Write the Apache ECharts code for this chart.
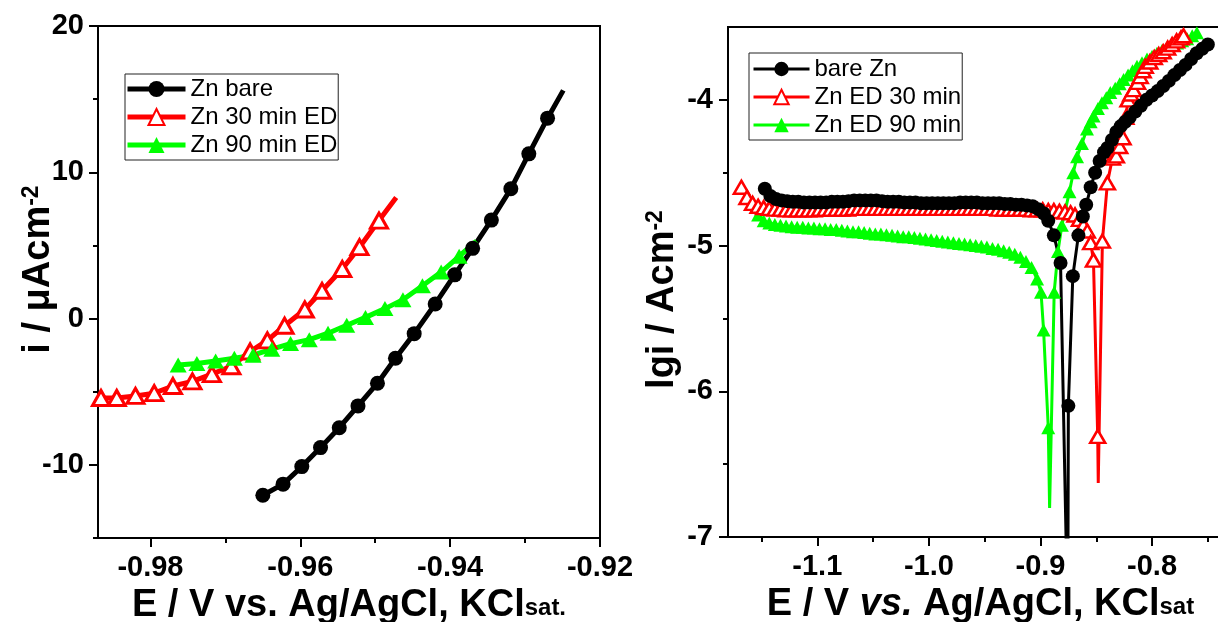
<!DOCTYPE html>
<html>
<head>
<meta charset="utf-8">
<script src="https://cdn.jsdelivr.net/npm/echarts@6/dist/echarts.min.js"></script>
<style>
html, body { margin: 0; padding: 0; background: #fff; }
#main { width: 1218px; height: 622px; }
</style>
</head>
<body>
<div id="main"></div>
<script>
// ---- left panel: i vs E near Ecorr ----
var eBareL = [-0.9650, -0.9623, -0.9598, -0.9573, -0.9548, -0.9523, -0.9497, -0.9473, -0.9448, -0.9420, -0.9394, -0.9370, -0.9345, -0.9319, -0.9295, -0.9270, -0.9249];
var iBareL = [-12.08, -11.32, -10.12, -8.82, -7.46, -5.97, -4.42, -2.71, -1.03, 1.00, 2.99, 4.80, 6.73, 8.87, 11.26, 13.70, 15.6];
var e30L = [-0.9866, -0.9845, -0.9820, -0.9795, -0.9770, -0.9744, -0.9718, -0.9692, -0.9667, -0.9644, -0.9621, -0.9594, -0.9571, -0.9544, -0.9521, -0.9495, -0.9472];
var i30L = [-5.43, -5.43, -5.29, -5.10, -4.61, -4.29, -3.80, -3.26, -2.25, -1.49, -0.49, 0.62, 1.90, 3.39, 4.88, 6.70, 8.28];
var e90L = [-0.9763, -0.9738, -0.9713, -0.9688, -0.9663, -0.9638, -0.9613, -0.9588, -0.9563, -0.9538, -0.9513, -0.9487, -0.9463, -0.9437, -0.9412, -0.9388, -0.9365];
var i90L = [-3.18, -3.07, -2.90, -2.71, -2.50, -2.09, -1.71, -1.44, -1.00, -0.46, 0.08, 0.68, 1.28, 2.25, 3.18, 4.26, 5.29];
// line ends drawn without a marker
var tipsBareL = [-0.9249];
var tips30L = [-0.9472];
var tips90L = [-0.9365];

// ---- right panel: Tafel plot ----
var eBareR = [-1.147, -1.142, -1.137, -1.132, -1.127, -1.122, -1.117, -1.112, -1.107, -1.102,
  -1.097, -1.092, -1.087, -1.082, -1.077, -1.072, -1.067, -1.062, -1.057, -1.052,
  -1.047, -1.042, -1.037, -1.032, -1.027, -1.022, -1.017, -1.012, -1.007, -1.002,
  -0.997, -0.992, -0.987, -0.982, -0.977, -0.972, -0.967, -0.962, -0.957, -0.952,
  -0.947, -0.942, -0.937, -0.932, -0.927, -0.922, -0.917, -0.912, -0.907, -0.902,
  -0.897, -0.893, -0.888, -0.882, -0.8755, -0.875, -0.871, -0.866, -0.862, -0.859,
  -0.855, -0.851, -0.847, -0.843, -0.840, -0.836, -0.832, -0.828, -0.824, -0.820,
  -0.815, -0.810, -0.805, -0.800, -0.795, -0.790, -0.785, -0.780, -0.775, -0.770,
  -0.765, -0.760, -0.755, -0.750];
var lgBareR = [-4.61, -4.66, -4.68, -4.69, -4.695, -4.70, -4.70, -4.705, -4.705, -4.705,
  -4.705, -4.705, -4.70, -4.70, -4.70, -4.695, -4.69, -4.69, -4.69, -4.69,
  -4.69, -4.695, -4.70, -4.70, -4.70, -4.705, -4.705, -4.705, -4.71, -4.71,
  -4.71, -4.71, -4.71, -4.71, -4.71, -4.705, -4.705, -4.705, -4.705, -4.71,
  -4.71, -4.71, -4.71, -4.715, -4.715, -4.72, -4.72, -4.725, -4.73, -4.75,
  -4.78, -4.83, -4.93, -5.12, -7.6, -6.10, -5.21, -4.93, -4.80, -4.72,
  -4.60, -4.50, -4.42, -4.36, -4.33, -4.275, -4.22, -4.18, -4.15, -4.12,
  -4.08, -4.04, -4.00, -3.97, -3.94, -3.905, -3.87, -3.83, -3.795, -3.76,
  -3.72, -3.68, -3.65, -3.62];
var tipsBareR = [-0.8755];

var e30R = [-1.168, -1.163, -1.158, -1.153, -1.148, -1.143, -1.138, -1.133, -1.128, -1.123,
  -1.118, -1.113, -1.108, -1.103, -1.098, -1.093, -1.088, -1.083, -1.078, -1.073,
  -1.068, -1.063, -1.058, -1.053, -1.048, -1.043, -1.038, -1.033, -1.028, -1.023,
  -1.018, -1.013, -1.008, -1.003, -0.998, -0.993, -0.988, -0.983, -0.978, -0.973,
  -0.968, -0.963, -0.958, -0.953, -0.948, -0.943, -0.938, -0.933, -0.928, -0.923,
  -0.918, -0.913, -0.908, -0.903, -0.898, -0.893, -0.888, -0.883, -0.878, -0.873,
  -0.869, -0.865, -0.8615, -0.858, -0.855, -0.8525, -0.8487, -0.8482, -0.8445, -0.8400,
  -0.8355, -0.8320, -0.8290, -0.8260, -0.8235, -0.8215, -0.8190, -0.8166, -0.8130, -0.8106,
  -0.8080, -0.8061, -0.8020, -0.7980, -0.7940, -0.7900, -0.7860, -0.7820, -0.7780, -0.7740,
  -0.7718];
var lg30R = [-4.60, -4.67, -4.71, -4.73, -4.74, -4.745, -4.75, -4.75, -4.755, -4.755,
  -4.755, -4.755, -4.755, -4.755, -4.75, -4.75, -4.75, -4.75, -4.75, -4.75,
  -4.745, -4.745, -4.745, -4.745, -4.745, -4.745, -4.745, -4.745, -4.745, -4.745,
  -4.745, -4.745, -4.745, -4.745, -4.745, -4.745, -4.745, -4.745, -4.745, -4.745,
  -4.745, -4.745, -4.745, -4.745, -4.745, -4.745, -4.75, -4.75, -4.75, -4.75,
  -4.75, -4.75, -4.755, -4.755, -4.755, -4.76, -4.76, -4.765, -4.77, -4.775,
  -4.79, -4.82, -4.86, -4.90, -4.98, -5.10, -6.31, -6.63, -4.97, -4.57,
  -4.40, -4.385, -4.32, -4.26, -4.12, -4.00, -3.96, -3.93, -3.88, -3.84,
  -3.80, -3.77, -3.74, -3.71, -3.69, -3.67, -3.645, -3.62, -3.595, -3.575,
  -3.56];
var tips30R = [-0.8482];

var e90R = [-1.158, -1.153, -1.148, -1.143, -1.138, -1.133, -1.128, -1.123, -1.118, -1.113,
  -1.108, -1.103, -1.098, -1.093, -1.088, -1.083, -1.078, -1.073, -1.068, -1.063,
  -1.058, -1.053, -1.048, -1.043, -1.038, -1.033, -1.028, -1.023, -1.018, -1.013,
  -1.008, -1.003, -0.998, -0.993, -0.988, -0.983, -0.978, -0.973, -0.968, -0.963,
  -0.958, -0.953, -0.948, -0.943, -0.938, -0.933, -0.928, -0.923, -0.918, -0.913,
  -0.908, -0.903, -0.8995, -0.8972, -0.8930, -0.8918, -0.8877, -0.8843, -0.8808, -0.8775,
  -0.8740, -0.8706, -0.8672, -0.8628, -0.8583, -0.8550, -0.8524, -0.8485, -0.8449, -0.8410,
  -0.8374, -0.8330, -0.8290, -0.8255, -0.8215, -0.8175, -0.8135, -0.8090, -0.8045, -0.8000,
  -0.7956, -0.7910, -0.7865, -0.7820, -0.7775, -0.7730, -0.7685, -0.7640, -0.7598];
var lg90R = [-4.70, -4.79, -4.83, -4.845, -4.855, -4.86, -4.865, -4.87, -4.875, -4.875,
  -4.88, -4.88, -4.885, -4.885, -4.89, -4.89, -4.895, -4.90, -4.905, -4.905,
  -4.91, -4.915, -4.92, -4.92, -4.925, -4.93, -4.935, -4.94, -4.94, -4.945,
  -4.95, -4.955, -4.96, -4.965, -4.97, -4.975, -4.98, -4.985, -4.99, -4.995,
  -5.00, -5.005, -5.01, -5.02, -5.025, -5.035, -5.045, -5.06, -5.08, -5.11,
  -5.15, -5.23, -5.32, -5.58, -6.25, -6.80, -5.32, -5.04, -4.86, -4.75,
  -4.63, -4.50, -4.39, -4.30, -4.20, -4.15, -4.11, -4.06, -4.02, -3.985,
  -3.95, -3.92, -3.89, -3.86, -3.83, -3.80, -3.77, -3.745, -3.72, -3.70,
  -3.68, -3.66, -3.64, -3.625, -3.61, -3.595, -3.58, -3.56, -3.54];
var tips90R = [-0.8918];

// ticks and labels
var xTicksL = [-0.98, -0.96, -0.94, -0.92];
var xMinorL = [-0.97, -0.95, -0.93];
var yTicksL = [-10, 0, 10, 20];
var yMinorL = [-15, -5, 5, 15];
var xTicksR = [-1.1, -1.0, -0.9, -0.8];
var xMinorR = [-1.15, -1.05, -0.95, -0.85, -0.75];
var yTicksR = [-7, -6, -5, -4];
var yMinorR = [-6.5, -5.5, -4.5];

var FONT = 'Liberation Sans, Arial, sans-serif';

function pts(xs, ys, tips) {
  return xs.map(function (x, k) {
    var p = { value: [x, ys[k]] };
    if (tips.indexOf(x) >= 0) p.symbol = 'none';
    return p;
  });
}

function mainAxis(grid, min, max, ticks, digits, margin, extra) {
  var ax = {
    gridIndex: grid, type: 'value', min: min, max: max,
    axisLine: { show: true, onZero: false, lineStyle: { color: '#000', width: 2 } },
    axisTick: { show: true, inside: false, length: 9, customValues: ticks, lineStyle: { color: '#000', width: 2 } },
    axisLabel: {
      customValues: ticks, margin: margin, color: '#000', fontFamily: FONT, fontWeight: 'bold', fontSize: 29,
      formatter: function (v) { return digits == null ? String(v) : Number(v).toFixed(digits); }
    },
    splitLine: { show: false },
    nameMoveOverlap: false
  };
  for (var k in extra) ax[k] = extra[k];
  return ax;
}
function minorAxis(grid, min, max, ticks, pos) {
  return {
    gridIndex: grid, type: 'value', min: min, max: max, position: pos,
    axisLine: { show: false, onZero: false },
    axisTick: { show: true, inside: false, length: 5, customValues: ticks, lineStyle: { color: '#000', width: 2 } },
    axisLabel: { show: false },
    splitLine: { show: false }
  };
}

var titleRich = {
  m: { fontFamily: FONT, fontWeight: 'bold', fontSize: 38, lineHeight: 38, color: '#000' },
  it: { fontFamily: FONT, fontWeight: 'bold', fontStyle: 'italic', fontSize: 38, lineHeight: 38, color: '#000' },
  sub: { fontFamily: FONT, fontWeight: 'bold', fontSize: 24, verticalAlign: 'bottom', padding: [0, 0, 5, 0], color: '#000' },
  sup: { fontFamily: FONT, fontWeight: 'bold', fontSize: 23, lineHeight: 8, verticalAlign: 'top', color: '#000' }
};

var chart = echarts.init(document.getElementById('main'));
var option = {
  animation: false,
  backgroundColor: '#fff',
  grid: [
    { left: 98, right: 618, top: 26, bottom: 84, show: true, borderColor: '#000', borderWidth: 2, outerBoundsMode: 'none', containLabel: false },
    { left: 728, right: -1, top: 27, bottom: 85, show: true, borderColor: '#000', borderWidth: 2, outerBoundsMode: 'none', containLabel: false }
  ],
  legend: [
    {
      orient: 'vertical', left: 125, top: 74, padding: [2, 1, 2, 0], itemGap: 2,
      itemWidth: 58, itemHeight: 20, borderColor: '#222', borderWidth: 1, selectedMode: false,
      lineStyle: { width: 5 },
      textStyle: { fontFamily: FONT, fontSize: 24, lineHeight: 26, color: '#000' },
      data: ['Zn bare', 'Zn 30 min ED', 'Zn 90 min ED']
    },
    {
      orient: 'vertical', left: 749, top: 53, padding: [3, 1, 2, 3], itemGap: 2,
      itemWidth: 56, itemHeight: 18, borderColor: '#222', borderWidth: 1, selectedMode: false,
      lineStyle: { width: 3 },
      textStyle: { fontFamily: FONT, fontSize: 24, lineHeight: 26, color: '#000' },
      data: ['bare Zn', 'Zn ED 30 min', 'Zn ED 90 min']
    }
  ],
  xAxis: [
    mainAxis(0, -0.987, -0.92, xTicksL, 2, 15, {
      position: 'bottom', name: '{m|E / V vs. Ag/AgCl, KCl}{sub|sat.}', nameLocation: 'middle', nameGap: 49,
      nameTextStyle: { rich: titleRich }
    }),
    minorAxis(0, -0.987, -0.92, xMinorL, 'bottom'),
    mainAxis(1, -1.18, -0.74, xTicksR, 1, 15, {
      position: 'bottom', name: '{m|E / V }{it|vs.}{m| Ag/AgCl, KCl}{sub|sat}', nameLocation: 'middle', nameGap: 49,
      nameTextStyle: { rich: titleRich, padding: [0, 0, 0, 14] }
    }),
    minorAxis(1, -1.18, -0.74, xMinorR, 'bottom')
  ],
  yAxis: [
    mainAxis(0, -15, 20, yTicksL, null, 14, {
      position: 'left', name: '{m|i / \u03bcAcm}{sup|-2}', nameLocation: 'middle', nameGap: 40, nameRotate: 90,
      nameTextStyle: { rich: titleRich, padding: [0, 0, 0, 25] }
    }),
    minorAxis(0, -15, 20, yMinorL, 'left'),
    mainAxis(1, -7, -3.5, yTicksR, null, 15, {
      position: 'left', name: '{m|lgi / Acm}{sup|-2}', nameLocation: 'middle', nameGap: 46, nameRotate: 90,
      nameTextStyle: { rich: titleRich, padding: [0, 35, 0, 0] }
    }),
    minorAxis(1, -7, -3.5, yMinorR, 'left')
  ],
  series: [
    {
      name: 'Zn bare', type: 'line', xAxisIndex: 0, yAxisIndex: 0,
      data: pts(eBareL, iBareL, tipsBareL),
      symbol: 'circle', symbolSize: 15,
      itemStyle: { color: '#000' }, lineStyle: { color: '#000', width: 5 }
    },
    {
      name: 'Zn 30 min ED', type: 'line', xAxisIndex: 0, yAxisIndex: 0,
      data: pts(e30L, i30L, tips30L),
      symbol: 'triangle', symbolSize: [17, 15],
      itemStyle: { color: '#fff', borderColor: '#ff0000', borderWidth: 3 }, lineStyle: { color: '#ff0000', width: 5 }
    },
    {
      name: 'Zn 90 min ED', type: 'line', xAxisIndex: 0, yAxisIndex: 0,
      data: pts(e90L, i90L, tips90L),
      symbol: 'triangle', symbolSize: [17, 15],
      itemStyle: { color: '#00ff00' }, lineStyle: { color: '#00ff00', width: 5 }
    },
    {
      name: 'Zn ED 90 min', type: 'line', xAxisIndex: 2, yAxisIndex: 2,
      data: pts(e90R, lg90R, tips90R),
      symbol: 'triangle', symbolSize: [14, 13],
      itemStyle: { color: '#00ff00' }, lineStyle: { color: '#00ff00', width: 3 }
    },
    {
      name: 'Zn ED 30 min', type: 'line', xAxisIndex: 2, yAxisIndex: 2,
      data: pts(e30R, lg30R, tips30R),
      symbol: 'triangle', symbolSize: [15, 13],
      itemStyle: { color: '#fff', borderColor: '#ff0000', borderWidth: 2.5 }, lineStyle: { color: '#ff0000', width: 3 }
    },
    {
      name: 'bare Zn', type: 'line', xAxisIndex: 2, yAxisIndex: 2,
      data: pts(eBareR, lgBareR, tipsBareR),
      symbol: 'circle', symbolSize: 14,
      itemStyle: { color: '#000' }, lineStyle: { color: '#000', width: 3 }
    }
  ]
};
chart.setOption(option);
</script>
</body>
</html>
